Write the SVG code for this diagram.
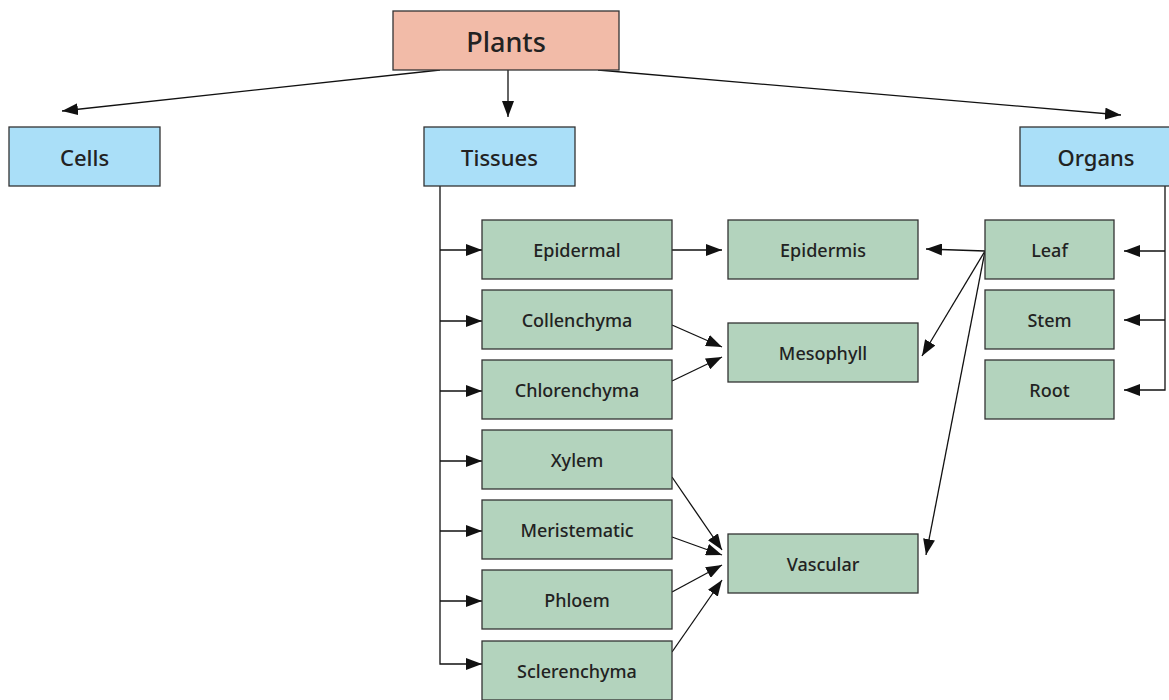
<svg xmlns="http://www.w3.org/2000/svg" width="1169" height="700" viewBox="0 0 1169 700">
<style>
.box{stroke:#333;stroke-width:1.3}
.top{fill:#f2bba8}
.blue{fill:#aadff8}
.green{fill:#b3d3bd}
text{font-family:"Noto Sans","Open Sans",sans-serif;fill:#222;text-anchor:middle;dominant-baseline:central}
.t1{font-size:27px;font-weight:500}
.t2{font-size:22px;font-weight:500}
.t3{font-size:18px;font-weight:500}
.c{stroke:#111;stroke-width:1.3;fill:none}
</style>
<defs>
<marker id="a" viewBox="0 0 16 12" refX="16" refY="6" markerWidth="16" markerHeight="12" markerUnits="userSpaceOnUse" orient="auto"><path d="M0,0 L16,6 L0,12 z" fill="#111"/></marker>
</defs>
<rect width="1169" height="700" fill="#fff"/>
<g id="connectors">
<line class="c" x1="440" y1="70" x2="62" y2="111" marker-end="url(#a)"/>
<line class="c" x1="508" y1="70" x2="508" y2="117" marker-end="url(#a)"/>
<line class="c" x1="598" y1="70" x2="1121" y2="115" marker-end="url(#a)"/>
<polyline class="c" points="440,186 440,664 482,664" marker-end="url(#a)"/>
<line class="c" x1="440" y1="250" x2="482" y2="250" marker-end="url(#a)"/>
<line class="c" x1="440" y1="321" x2="482" y2="321" marker-end="url(#a)"/>
<line class="c" x1="440" y1="391" x2="482" y2="391" marker-end="url(#a)"/>
<line class="c" x1="440" y1="461" x2="482" y2="461" marker-end="url(#a)"/>
<line class="c" x1="440" y1="531" x2="482" y2="531" marker-end="url(#a)"/>
<line class="c" x1="440" y1="601" x2="482" y2="601" marker-end="url(#a)"/>
<polyline class="c" points="1165,186 1165,390 1124,390" marker-end="url(#a)"/>
<line class="c" x1="1165" y1="251" x2="1124" y2="251" marker-end="url(#a)"/>
<line class="c" x1="1165" y1="320" x2="1124" y2="320" marker-end="url(#a)"/>
<line class="c" x1="672" y1="250" x2="722" y2="250" marker-end="url(#a)"/>
<line class="c" x1="672" y1="325" x2="722" y2="347" marker-end="url(#a)"/>
<line class="c" x1="672" y1="381" x2="722" y2="357" marker-end="url(#a)"/>
<line class="c" x1="672" y1="477" x2="722" y2="550" marker-end="url(#a)"/>
<line class="c" x1="672" y1="537" x2="722" y2="555" marker-end="url(#a)"/>
<line class="c" x1="672" y1="592" x2="722" y2="565" marker-end="url(#a)"/>
<line class="c" x1="672" y1="652" x2="722" y2="580" marker-end="url(#a)"/>
<line class="c" x1="985" y1="251" x2="926" y2="249" marker-end="url(#a)"/>
<line class="c" x1="985" y1="251" x2="922" y2="356" marker-end="url(#a)"/>
<line class="c" x1="985" y1="251" x2="926" y2="555" marker-end="url(#a)"/>
</g>
<g id="plants"><rect class="box top" x="393" y="11" width="226" height="59"/><text class="t1" x="506" y="41">Plants</text></g>
<g id="cells"><rect class="box blue" x="9" y="127" width="151" height="59"/><text class="t2" x="84.5" y="157">Cells</text></g>
<g id="tissues"><rect class="box blue" x="424" y="127" width="151" height="59"/><text class="t2" x="499.5" y="157">Tissues</text></g>
<g id="organs"><rect class="box blue" x="1020" y="127" width="151" height="59"/><text class="t2" x="1096" y="157">Organs</text></g>
<g id="epidermal"><rect class="box green" x="482" y="220" width="190" height="59"/><text class="t3" x="577" y="250">Epidermal</text></g>
<g id="collenchyma"><rect class="box green" x="482" y="290" width="190" height="59"/><text class="t3" x="577" y="320">Collenchyma</text></g>
<g id="chlorenchyma"><rect class="box green" x="482" y="360" width="190" height="59"/><text class="t3" x="577" y="390">Chlorenchyma</text></g>
<g id="xylem"><rect class="box green" x="482" y="430" width="190" height="59"/><text class="t3" x="577" y="460">Xylem</text></g>
<g id="meristematic"><rect class="box green" x="482" y="500" width="190" height="59"/><text class="t3" x="577" y="530">Meristematic</text></g>
<g id="phloem"><rect class="box green" x="482" y="570" width="190" height="59"/><text class="t3" x="577" y="600">Phloem</text></g>
<g id="sclerenchyma"><rect class="box green" x="482" y="641" width="190" height="59"/><text class="t3" x="577" y="671">Sclerenchyma</text></g>
<g id="epidermis"><rect class="box green" x="728" y="220" width="190" height="59"/><text class="t3" x="823" y="250">Epidermis</text></g>
<g id="mesophyll"><rect class="box green" x="728" y="323" width="190" height="59"/><text class="t3" x="823" y="353">Mesophyll</text></g>
<g id="vascular"><rect class="box green" x="728" y="534" width="190" height="59"/><text class="t3" x="823" y="564">Vascular</text></g>
<g id="leaf"><rect class="box green" x="985" y="220" width="129" height="59"/><text class="t3" x="1049.5" y="250">Leaf</text></g>
<g id="stem"><rect class="box green" x="985" y="290" width="129" height="59"/><text class="t3" x="1049.5" y="320">Stem</text></g>
<g id="root"><rect class="box green" x="985" y="360" width="129" height="59"/><text class="t3" x="1049.5" y="390">Root</text></g>
</svg>
